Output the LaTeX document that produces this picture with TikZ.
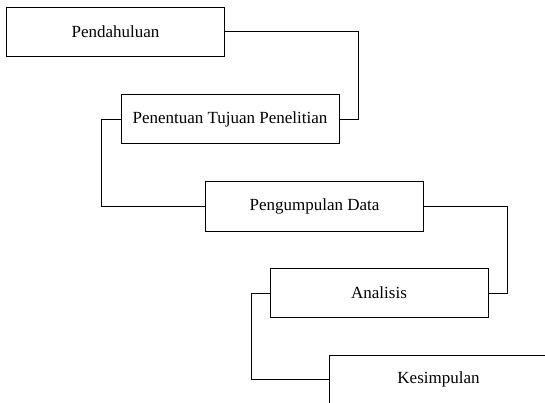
\documentclass[tikz,border=0pt]{standalone}
\usepackage{fontspec}
\setmainfont{Liberation Serif}
\usepackage{tikz}
\newcommand{\boxW}[0]{218pt}
\newcommand{\boxH}[0]{49pt}

\begin{document}
\begin{tikzpicture}[x=1pt, y=-1pt]
  \tikzset{stage/.style={draw, line width=1pt, minimum width=\boxW, minimum height=\boxH,
                         inner sep=0pt, font=\fontsize{17}{20}\selectfont},
           link/.style={line width=1pt}}
  \useasboundingbox (0,0) rectangle (545,403);
  \clip (0,0) rectangle (545,403);
  \node[stage](pendahuluan) at (115.5,32) {Pendahuluan};
  \node[stage](tujuan)      at (230,119.5) {Penentuan Tujuan Penelitian};
  \node[stage](data)        at (314.5,206.5) {Pengumpulan Data};
  \node[stage](analisis)    at (379,293) {Analisis};
  \node[stage](kesimpulan)  at (438.5,379.5) {Kesimpulan};
  \draw[link] (pendahuluan.east) -- ++(133,0) |- (tujuan.east);
  \draw[link] (tujuan.west) -- ++(-19,0) |- (data.west);
  \draw[link] (data.east) -- ++(83,0) |- (analisis.east);
  \draw[link] (analisis.west) -- ++(-18,0) |- (kesimpulan.west);
\end{tikzpicture}
\end{document}
